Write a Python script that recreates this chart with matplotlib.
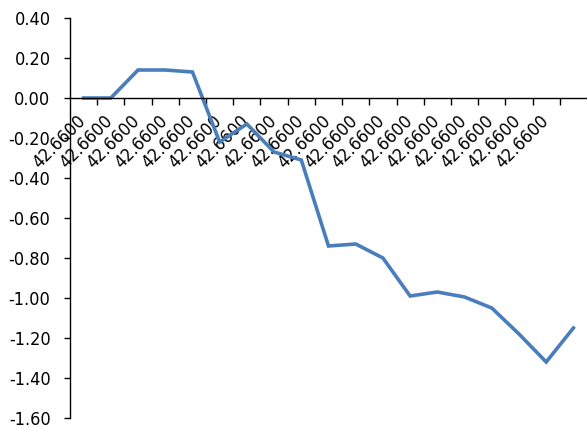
import matplotlib
matplotlib.use("Agg")
import matplotlib.pyplot as plt
import matplotlib.transforms as mtransforms
from matplotlib.ticker import FixedLocator, FormatStrFormatter

plt.rcParams['font.family'] = ['DejaVu Sans Condensed', 'DejaVu Sans']
plt.rcParams['font.stretch'] = 'condensed'

# data
labels = ["42.6600"] * 18 + [""]
values = [0.00, 0.00, 0.14, 0.14, 0.13, -0.22, -0.13, -0.27, -0.31, -0.74,
          -0.73, -0.80, -0.99, -0.97, -0.995, -1.05, -1.18, -1.32, -1.15]
yticks = [0.40, 0.20, 0.00, -0.20, -0.40, -0.60, -0.80, -1.00, -1.20, -1.40, -1.60]

fig = plt.figure(figsize=(5.87, 4.28), dpi=100)
ax = fig.add_axes([70 / 587, 1 - 418 / 428, 517 / 587, 400 / 428])

x = list(range(len(values)))
ax.plot(x, values, color="#4A7EBB", linewidth=2.6, solid_joinstyle="miter")

ax.set_xlim(-0.5, len(values) - 0.5)
ax.set_ylim(-1.6, 0.4)

# axes look
for s in ["top", "right"]:
    ax.spines[s].set_visible(False)
ax.spines["bottom"].set_position(("data", 0))
ax.spines["bottom"].set_linewidth(1.0)
ax.spines["left"].set_linewidth(1.0)

ax.set_yticks(yticks)
ax.yaxis.set_major_formatter(FormatStrFormatter("%.2f"))
ax.tick_params(axis="y", direction="out", length=4, width=1, labelsize=13, pad=10)

ax.set_xticks(x)
ax.set_xticklabels(labels, rotation=45, ha="right", va="top", rotation_mode="anchor")
ax.tick_params(axis="x", which="major", length=0, labelsize=13, pad=10)
ax.xaxis.set_minor_locator(FixedLocator([i + 0.5 for i in range(len(values) - 1)]))
ax.tick_params(axis="x", which="minor", direction="out", length=5, width=1)

# nudge the slanted labels left so they end at the category centre
shift = mtransforms.ScaledTranslation(-7 / 100, 0, fig.dpi_scale_trans)
for lab in ax.get_xticklabels():
    lab.set_transform(lab.get_transform() + shift)

plt.savefig("out.png", dpi=100)
